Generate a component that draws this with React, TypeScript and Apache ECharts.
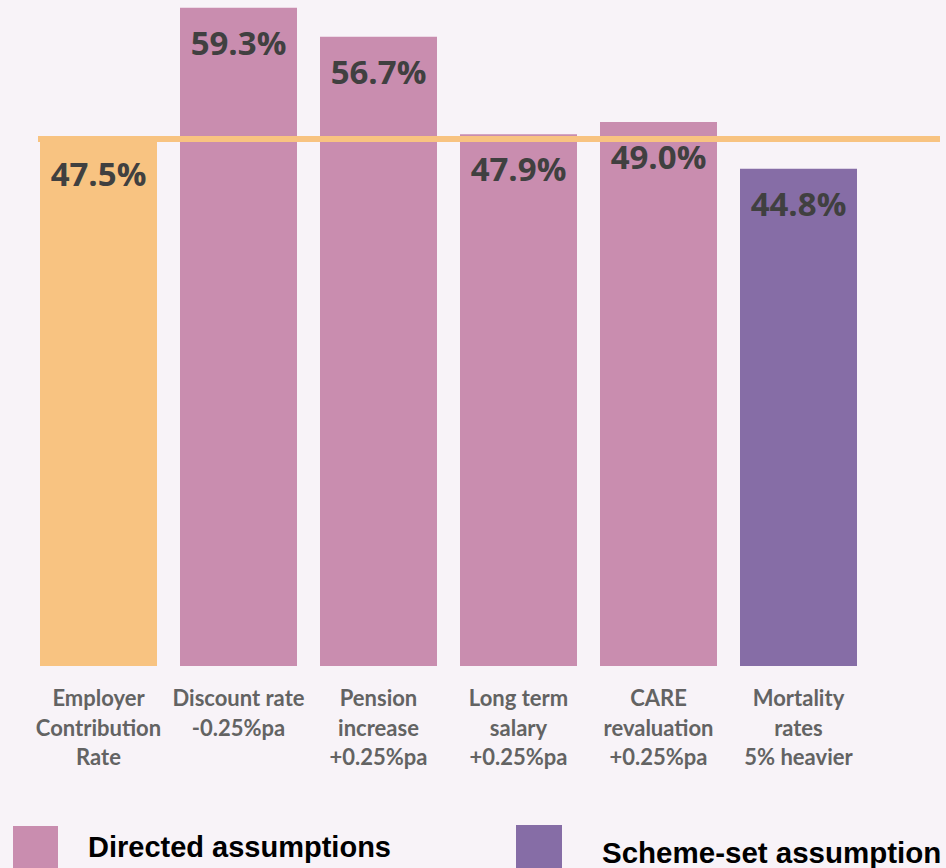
import React, { useEffect, useRef } from "react";
import * as echarts from "echarts";

const categories = [
  "Employer\nContribution\nRate",
  "Discount rate\n-0.25%pa",
  "Pension\nincrease\n+0.25%pa",
  "Long term\nsalary\n+0.25%pa",
  "CARE\nrevaluation\n+0.25%pa",
  "Mortality\nrates\n5% heavier",
];
const values = [47.5, 59.3, 56.7, 47.9, 49.0, 44.8];
const groups = ["base", "directed", "directed", "directed", "directed", "scheme"];
const baseRate = 47.5;
const legendNames = ["Directed assumptions", "Scheme-set assumption"];

const COLORS: Record<string, string> = {
  base: "#F8C381",
  directed: "#C98DAF",
  scheme: "#866DA6",
};

export default function App() {
  const ref = useRef<HTMLDivElement>(null);
  useEffect(() => {
    document.body.style.margin = "0";
    const chart = echarts.init(ref.current!, null, { renderer: "svg" });
    chart.setOption({
      animation: false,
      backgroundColor: "#F8F3F8",
      grid: { left: 28.5, top: 0, width: 840, height: 666 },
      xAxis: {
        type: "category",
        data: categories,
        axisLine: { show: false },
        axisTick: { show: false },
        axisLabel: {
          interval: 0,
          margin: 17,
          fontFamily: "Lato",
          fontWeight: "bold",
          fontSize: 22,
          lineHeight: 29.5,
          color: "#636363",
        },
      },
      yAxis: { type: "value", min: 0, max: 60, show: false, splitLine: { show: false } },
      series: [
        {
          type: "bar",
          barWidth: 117,
          data: values.map((v, i) => ({
            value: v,
            itemStyle: { color: COLORS[groups[i]] },
          })),
          label: {
            show: true,
            position: "insideTop",
            distance: 18,
            formatter: (p: any) => p.value.toFixed(1) + "%",
            fontFamily: "Open Sans",
            fontWeight: "bold",
            fontSize: 33,
            color: "#404040",
          },
          markLine: {
            silent: true,
            symbol: ["none", "none"],
            label: { show: false },
            lineStyle: { color: COLORS.base, width: 6, type: "solid", opacity: 1 },
            data: [[{ x: 38, yAxis: baseRate }, { x: 940, yAxis: baseRate }]],
          },
        },
      ],
      graphic: [
        { type: "rect", shape: { x: 13, y: 826, width: 45, height: 45 }, style: { fill: COLORS.directed } },
        {
          type: "text",
          x: 88,
          y: 847,
          style: {
            text: legendNames[0],
            font: "bold 29px 'Liberation Sans', Arial, sans-serif",
            fill: "#000",
            verticalAlign: "middle",
          },
        },
        { type: "rect", shape: { x: 516, y: 825, width: 46, height: 46 }, style: { fill: COLORS.scheme } },
        {
          type: "text",
          x: 602,
          y: 852.5,
          style: {
            text: legendNames[1],
            font: "bold 29.5px 'Liberation Sans', Arial, sans-serif",
            fill: "#000",
            verticalAlign: "middle",
          },
        },
      ],
    });
    return () => chart.dispose();
  }, []);
  return <div ref={ref} style={{ width: 946, height: 868 }} />;
}
